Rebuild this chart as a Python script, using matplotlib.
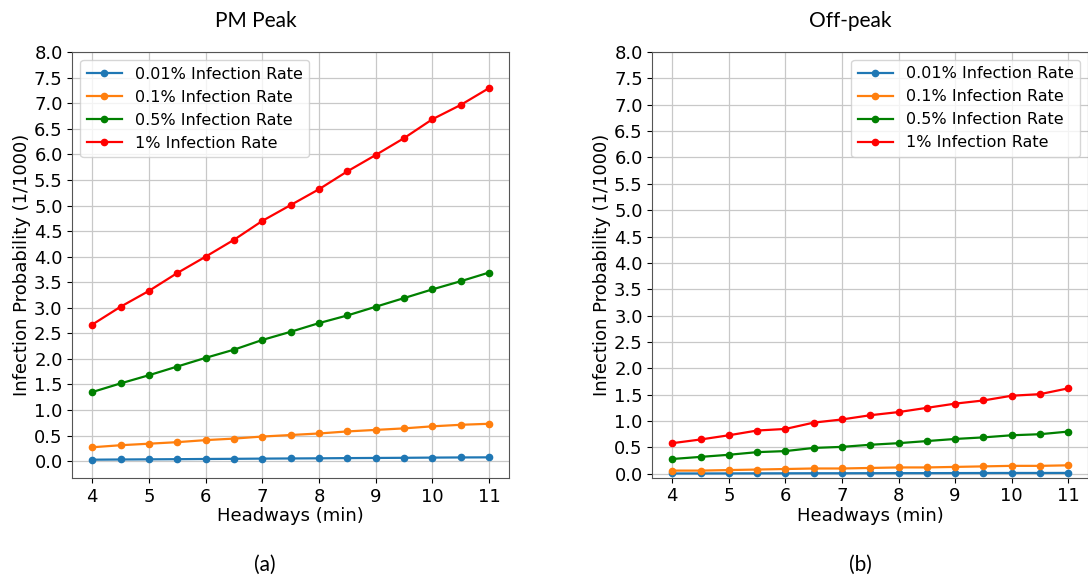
import numpy as np
import matplotlib
matplotlib.use("Agg")
import matplotlib.pyplot as plt

# headway values (min)
headways = [4, 4.5, 5, 5.5, 6, 6.5, 7, 7.5, 8, 8.5, 9, 9.5, 10, 10.5, 11]

labels = ["0.01% Infection Rate", "0.1% Infection Rate",
          "0.5% Infection Rate", "1% Infection Rate"]
colors = ["tab:blue", "tab:orange", "green", "red"]

# PM peak infection probability (1/1000)
pm_001 = [0.027, 0.031, 0.034, 0.037, 0.041, 0.044, 0.048, 0.051,
          0.054, 0.058, 0.061, 0.064, 0.068, 0.071, 0.073]
pm_01 = [0.27, 0.31, 0.34, 0.37, 0.41, 0.44, 0.48, 0.51,
         0.54, 0.58, 0.61, 0.64, 0.68, 0.71, 0.73]
pm_05 = [1.35, 1.52, 1.68, 1.85, 2.02, 2.18, 2.37, 2.53,
         2.70, 2.85, 3.02, 3.19, 3.36, 3.52, 3.69]
pm_1 = [2.67, 3.02, 3.33, 3.68, 4.00, 4.33, 4.70, 5.01,
        5.32, 5.67, 5.99, 6.32, 6.69, 6.97, 7.30]

# off-peak infection probability (1/1000)
off_001 = [0.006, 0.006, 0.007, 0.008, 0.009, 0.010, 0.010, 0.011,
           0.012, 0.012, 0.013, 0.014, 0.015, 0.015, 0.016]
off_01 = [0.06, 0.06, 0.07, 0.08, 0.09, 0.10, 0.10, 0.11,
          0.12, 0.12, 0.13, 0.14, 0.15, 0.15, 0.16]
off_05 = [0.28, 0.32, 0.36, 0.41, 0.43, 0.49, 0.51, 0.55,
          0.58, 0.62, 0.66, 0.69, 0.73, 0.75, 0.80]
off_1 = [0.58, 0.65, 0.73, 0.82, 0.85, 0.97, 1.03, 1.11,
         1.17, 1.25, 1.33, 1.39, 1.48, 1.51, 1.62]

yticks = np.arange(0, 8.5, 0.5)

fig = plt.figure(figsize=(10.88, 5.77), dpi=100)
ax1 = fig.add_axes([0.0665, 0.1711, 0.4013, 0.7383])
ax2 = fig.add_axes([0.5997, 0.1721, 0.4003, 0.7378])


def draw(ax, series, legend_loc):
    for vals, lab, col in zip(series, labels, colors):
        ax.plot(headways, vals, marker="o", markersize=4.5, color=col,
                label=lab, linewidth=1.6)
    ax.set_yticks(yticks)
    ax.set_xticks(range(4, 12))
    ax.grid(True, color="#c8c8c8", linewidth=0.9)
    ax.tick_params(labelsize=13)
    ax.set_xlabel("Headways (min)", fontsize=13, labelpad=1)
    ax.set_ylabel("Infection Probability (1/1000)", fontsize=13, labelpad=2)
    ax.legend(loc=legend_loc, fontsize=11.5, handlelength=2.2)
    for s in ax.spines.values():
        s.set_color("#555555")


draw(ax1, [pm_001, pm_01, pm_05, pm_1], "upper left")
draw(ax2, [off_001, off_01, off_05, off_1], "upper right")

cap_font = ["Lato", "DejaVu Sans"]
fig.text(255.5 / 1088, 1 - 21 / 577, "PM Peak", ha="center", va="center",
         fontsize=15, family=cap_font)
fig.text(850 / 1088, 1 - 21 / 577, "Off-peak", ha="center", va="center",
         fontsize=15, family=cap_font)
fig.text(265 / 1088, 1 - 565 / 577, "(a)", ha="center", va="center",
         fontsize=15, family=cap_font)
fig.text(860.5 / 1088, 1 - 565 / 577, "(b)", ha="center", va="center",
         fontsize=15, family=cap_font)

fig.savefig("out.png", dpi=100)
